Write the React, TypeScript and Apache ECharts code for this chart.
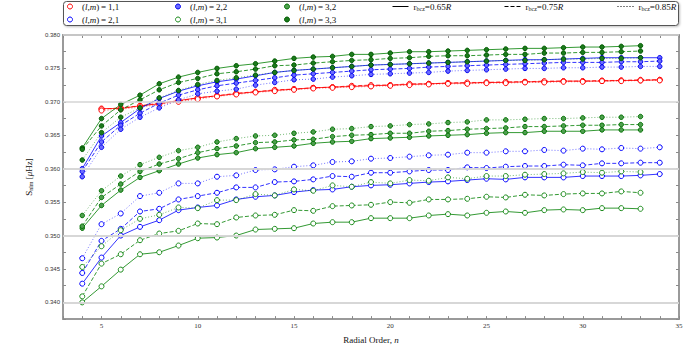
import React, { useEffect, useRef } from 'react';
import * as echarts from 'echarts';

// Radial orders n = 4 .. 34
const ORDERS = [4, 5, 6, 7, 8, 9, 10, 11, 12, 13, 14, 15, 16, 17, 18, 19, 20, 21, 22, 23, 24, 25, 26, 27, 28, 29, 30, 31, 32, 33, 34];

// (l,m)=1,1  — r_bcz = 0.65R / 0.75R / 0.85R
const S11_65 = [null, 0.3690, 0.3690, 0.3694, 0.3697, 0.3702, 0.3706, 0.3709, 0.3712, 0.3715, 0.3717, 0.3719, 0.3721, 0.3722, 0.3723, 0.3724, 0.3725, 0.3726, 0.3727, 0.3728, 0.3728, 0.3729, 0.3729, 0.3730, 0.3730, 0.3731, 0.3731, 0.3731, 0.3732, 0.3732, 0.3733];
const S11_75 = [null, 0.3689, 0.3691, 0.3694, 0.3698, 0.3701, 0.3706, 0.3709, 0.3713, 0.3715, 0.3718, 0.3719, 0.3721, 0.3722, 0.3724, 0.3725, 0.3725, 0.3727, 0.3727, 0.3728, 0.3729, 0.3729, 0.3730, 0.3730, 0.3731, 0.3731, 0.3731, 0.3732, 0.3732, 0.3733, 0.3733];
const S11_85 = [null, 0.3687, 0.3689, 0.3692, 0.3696, 0.3700, 0.3704, 0.3708, 0.3711, 0.3714, 0.3716, 0.3718, 0.3720, 0.3721, 0.3722, 0.3723, 0.3724, 0.3725, 0.3726, 0.3727, 0.3727, 0.3728, 0.3728, 0.3729, 0.3729, 0.3730, 0.3730, 0.3731, 0.3731, 0.3732, 0.3732];

// (l,m)=2,1
const S21_65 = [0.3428, 0.3467, 0.3500, 0.3513, 0.3523, 0.3538, 0.3542, 0.3545, 0.3554, 0.3558, 0.3560, 0.3565, 0.3568, 0.3569, 0.3573, 0.3575, 0.3576, 0.3578, 0.3580, 0.3581, 0.3583, 0.3585, 0.3584, 0.3587, 0.3587, 0.3587, 0.3589, 0.3589, 0.3589, 0.3590, 0.3592];
const S21_75 = [0.3444, 0.3492, 0.3510, 0.3536, 0.3540, 0.3554, 0.3559, 0.3564, 0.3572, 0.3572, 0.3580, 0.3581, 0.3584, 0.3589, 0.3588, 0.3594, 0.3594, 0.3596, 0.3598, 0.3598, 0.3602, 0.3601, 0.3603, 0.3604, 0.3604, 0.3606, 0.3605, 0.3608, 0.3608, 0.3609, 0.3609];
const S21_85 = [0.3466, 0.3517, 0.3533, 0.3559, 0.3564, 0.3578, 0.3578, 0.3588, 0.3590, 0.3598, 0.3599, 0.3603, 0.3605, 0.3610, 0.3611, 0.3615, 0.3616, 0.3618, 0.3620, 0.3621, 0.3624, 0.3624, 0.3626, 0.3626, 0.3628, 0.3627, 0.3630, 0.3629, 0.3631, 0.3630, 0.3632];

// (l,m)=2,2
const S22_65 = [0.3600, 0.3649, 0.3669, 0.3690, 0.3705, 0.3716, 0.3724, 0.3730, 0.3734, 0.3739, 0.3744, 0.3747, 0.3749, 0.3751, 0.3753, 0.3755, 0.3756, 0.3757, 0.3758, 0.3759, 0.3760, 0.3761, 0.3762, 0.3763, 0.3763, 0.3764, 0.3765, 0.3766, 0.3766, 0.3766, 0.3766];
const S22_75 = [0.3596, 0.3640, 0.3665, 0.3683, 0.3698, 0.3710, 0.3718, 0.3724, 0.3728, 0.3732, 0.3736, 0.3740, 0.3742, 0.3744, 0.3746, 0.3748, 0.3749, 0.3750, 0.3752, 0.3753, 0.3754, 0.3755, 0.3756, 0.3757, 0.3758, 0.3759, 0.3759, 0.3759, 0.3760, 0.3760, 0.3761];
const S22_85 = [0.3588, 0.3632, 0.3659, 0.3677, 0.3691, 0.3703, 0.3712, 0.3716, 0.3719, 0.3725, 0.3729, 0.3733, 0.3734, 0.3737, 0.3739, 0.3741, 0.3742, 0.3743, 0.3744, 0.3746, 0.3747, 0.3748, 0.3749, 0.3750, 0.3750, 0.3751, 0.3751, 0.3752, 0.3752, 0.3753, 0.3753];

// (l,m)=3,1
const S31_65 = [0.3400, 0.3424, 0.3449, 0.3472, 0.3475, 0.3485, 0.3496, 0.3497, 0.3500, 0.3509, 0.3510, 0.3511, 0.3518, 0.3520, 0.3520, 0.3526, 0.3526, 0.3526, 0.3530, 0.3532, 0.3530, 0.3534, 0.3536, 0.3534, 0.3538, 0.3539, 0.3538, 0.3541, 0.3541, 0.3540, null];
const S31_75 = [0.3409, 0.3458, 0.3472, 0.3493, 0.3503, 0.3507, 0.3518, 0.3517, 0.3527, 0.3530, 0.3531, 0.3538, 0.3537, 0.3544, 0.3545, 0.3546, 0.3550, 0.3549, 0.3554, 0.3554, 0.3555, 0.3558, 0.3557, 0.3561, 0.3560, 0.3562, 0.3563, 0.3563, 0.3566, 0.3564, null];
const S31_85 = [0.3453, 0.3484, 0.3508, 0.3525, 0.3531, 0.3542, 0.3541, 0.3553, 0.3553, 0.3562, 0.3560, 0.3569, 0.3567, 0.3575, 0.3573, 0.3580, 0.3578, 0.3583, 0.3582, 0.3587, 0.3585, 0.3589, 0.3589, 0.3591, 0.3592, 0.3593, 0.3595, 0.3594, 0.3596, 0.3595, null];

// (l,m)=3,2
const S32_65 = [0.3511, 0.3545, 0.3568, 0.3587, 0.3597, 0.3607, 0.3616, 0.3621, 0.3624, 0.3630, 0.3632, 0.3634, 0.3638, 0.3640, 0.3641, 0.3645, 0.3646, 0.3647, 0.3649, 0.3650, 0.3651, 0.3653, 0.3654, 0.3654, 0.3656, 0.3656, 0.3656, 0.3658, 0.3658, 0.3658, null];
const S32_75 = [0.3514, 0.3557, 0.3577, 0.3596, 0.3607, 0.3615, 0.3624, 0.3630, 0.3634, 0.3639, 0.3640, 0.3643, 0.3644, 0.3648, 0.3650, 0.3651, 0.3653, 0.3653, 0.3656, 0.3657, 0.3659, 0.3660, 0.3661, 0.3663, 0.3663, 0.3664, 0.3665, 0.3665, 0.3666, 0.3666, null];
const S32_85 = [0.3530, 0.3567, 0.3589, 0.3606, 0.3617, 0.3627, 0.3632, 0.3640, 0.3645, 0.3649, 0.3650, 0.3653, 0.3655, 0.3659, 0.3660, 0.3663, 0.3664, 0.3666, 0.3667, 0.3669, 0.3670, 0.3673, 0.3673, 0.3674, 0.3675, 0.3675, 0.3676, 0.3677, 0.3677, 0.3678, null];

// (l,m)=3,3
const S33_65 = [0.3631, 0.3675, 0.3696, 0.3710, 0.3727, 0.3737, 0.3744, 0.3750, 0.3754, 0.3757, 0.3761, 0.3765, 0.3767, 0.3768, 0.3771, 0.3771, 0.3773, 0.3775, 0.3775, 0.3776, 0.3777, 0.3778, 0.3779, 0.3780, 0.3780, 0.3781, 0.3782, 0.3782, 0.3783, 0.3784, null];
const S33_75 = [0.3629, 0.3664, 0.3688, 0.3703, 0.3718, 0.3729, 0.3735, 0.3742, 0.3745, 0.3749, 0.3754, 0.3755, 0.3758, 0.3760, 0.3762, 0.3763, 0.3765, 0.3766, 0.3768, 0.3769, 0.3769, 0.3770, 0.3771, 0.3771, 0.3773, 0.3773, 0.3774, 0.3774, 0.3775, 0.3776, null];
const S33_85 = [0.3613, 0.3654, 0.3677, 0.3691, 0.3706, 0.3717, 0.3726, 0.3732, 0.3736, 0.3740, 0.3744, 0.3747, 0.3749, 0.3751, 0.3753, 0.3755, 0.3756, 0.3757, 0.3758, 0.3759, 0.3760, 0.3761, 0.3762, 0.3762, 0.3763, 0.3764, 0.3764, 0.3765, 0.3765, 0.3766, null];

const GRID_VALUES = [0.340, 0.345, 0.350, 0.355, 0.360, 0.365, 0.370, 0.375];

const SERIF = '"Liberation Serif", "DejaVu Serif", serif';
const SANS = '"Liberation Sans", "DejaVu Sans", sans-serif';

const RICH = {
  i: { fontStyle: 'italic', fontFamily: SERIF, fontSize: 9, lineHeight: 11, color: '#111' },
  sub: { fontFamily: SERIF, fontSize: 6, lineHeight: 6, verticalAlign: 'bottom', color: '#111' },
};

const MODES = [
  { key: 'm11', text: '({i|l},{i|m})\u2009=\u20091,1', color: '#ff0000', fill: '#ffffff', border: '#ff0000', size: 5, values: [S11_65, S11_75, S11_85] },
  { key: 'm21', text: '({i|l},{i|m})\u2009=\u20092,1', color: '#0000ff', fill: '#ffffff', border: '#0000ff', size: 5, values: [S21_65, S21_75, S21_85] },
  { key: 'm22', text: '({i|l},{i|m})\u2009=\u20092,2', color: '#0000ff', fill: '#6b6bff', border: '#0000ee', size: 4.5, values: [S22_65, S22_75, S22_85] },
  { key: 'm31', text: '({i|l},{i|m})\u2009=\u20093,1', color: '#008000', fill: '#ffffff', border: '#1a8a1a', size: 5, values: [S31_65, S31_75, S31_85] },
  { key: 'm32', text: '({i|l},{i|m})\u2009=\u20093,2', color: '#008000', fill: '#4f9f4f', border: '#007000', size: 4.5, values: [S32_65, S32_75, S32_85] },
  { key: 'm33', text: '({i|l},{i|m})\u2009=\u20093,3', color: '#008000', fill: '#1c7a1c', border: '#005a00', size: 4.5, values: [S33_65, S33_75, S33_85] },
];

const RBCZ = [
  { key: 'r65', text: 'r{sub|bcz}=0.65{i|R}', dash: 'solid', opacity: 0.8 },
  { key: 'r75', text: 'r{sub|bcz}=0.75{i|R}', dash: [4, 2], opacity: 0.8 },
  { key: 'r85', text: 'r{sub|bcz}=0.85{i|R}', dash: [1, 2], opacity: 0.55 },
];

const LEGEND_TEXT: Record<string, string> = {};
MODES.forEach((m) => (LEGEND_TEXT[m.key] = m.text));
RBCZ.forEach((r) => (LEGEND_TEXT[r.key] = r.text));

function pairs(vals: (number | null)[]) {
  const out: [number, number][] = [];
  vals.forEach((v, i) => {
    if (v !== null) out.push([ORDERS[i], v]);
  });
  return out;
}

export default function App() {
  const ref = useRef<HTMLDivElement>(null);
  useEffect(() => {
    if (!ref.current) return;
    const chart = echarts.init(ref.current, null, { renderer: 'svg' });

    const dataSeries: any[] = [];
    MODES.forEach((m) => {
      RBCZ.forEach((r, j) => {
        dataSeries.push({
          name: m.key + '-' + r.key,
          type: 'line',
          z: 3,
          data: pairs(m.values[j]),
          symbol: 'circle',
          symbolSize: m.size,
          showSymbol: true,
          lineStyle: { color: m.color, width: 1, type: r.dash, opacity: r.opacity },
          itemStyle: { color: m.fill, borderColor: m.border, borderWidth: 1 },
          emphasis: { disabled: true },
          silent: true,
        });
      });
    });

    const legendSeries: any[] = [];
    MODES.forEach((m) => {
      legendSeries.push({
        name: m.key, type: 'line', data: [], symbol: 'circle',
        itemStyle: { color: m.fill, borderColor: m.border, borderWidth: 1 },
        lineStyle: { color: m.color },
      });
    });
    RBCZ.forEach((r) => {
      legendSeries.push({
        name: r.key, type: 'line', data: [], symbol: 'none',
        itemStyle: { color: '#000' },
        lineStyle: { color: '#000', width: 1, type: r.dash },
      });
    });

    const gridSeries = {
      name: 'grid', type: 'line', data: [], z: 1, silent: true,
      markLine: {
        silent: true, symbol: ['none', 'none'], label: { show: false },
        lineStyle: { color: '#d4d4d4', width: 1.5, type: 'solid' },
        emphasis: { disabled: true },
        data: GRID_VALUES.map((v) => ({ yAxis: v })),
      },
    };

    const modeItem = (k: string) => {
      const m = MODES.find((x) => x.key === k)!;
      return { name: k, icon: 'circle', itemStyle: { color: m.fill, borderColor: m.border, borderWidth: 1 } };
    };
    const lineItem = (k: string) => {
      const r = RBCZ.find((x) => x.key === k)!;
      return {
        name: k,
        itemStyle: { color: 'rgba(0,0,0,0)', borderWidth: 0, opacity: 0 },
        lineStyle: { color: '#000', width: 1, type: r.dash },
      };
    };

    const legendBase = {
      orient: 'vertical', top: 1, padding: 0, itemGap: 2, selectedMode: false,
      itemHeight: 5,
      textStyle: { fontFamily: SERIF, fontSize: 9, lineHeight: 11, color: '#111', rich: RICH },
      formatter: (n: string) => LEGEND_TEXT[n],
    };
    const legends = [
      { ...legendBase, left: 67, itemWidth: 14, data: [modeItem('m11'), modeItem('m21')] },
      { ...legendBase, left: 175, itemWidth: 14, data: [modeItem('m22'), modeItem('m31')] },
      { ...legendBase, left: 284, itemWidth: 14, data: [modeItem('m32'), modeItem('m33')] },
      { ...legendBase, left: 392, itemWidth: 16, data: [lineItem('r65')] },
      { ...legendBase, left: 504, itemWidth: 16, data: [lineItem('r75')] },
      { ...legendBase, left: 617, itemWidth: 16, data: [lineItem('r85')] },
    ];

    const spine = { show: true, onZero: false, lineStyle: { color: '#9a9a9a', width: 2 } };
    const ticks = { show: true, inside: true, length: 3, lineStyle: { color: '#8a8a8a', width: 1 } };

    const xFmt = (v: number) => (Math.abs(v % 5) < 1e-9 ? String(v) : '');
    const yFmt = (v: number) => {
      const k = Math.round(v * 1000);
      return Math.abs(v * 1000 - k) < 1e-6 && k % 5 === 0 ? (k / 1000).toFixed(3) : '';
    };

    chart.setOption({
      animation: false,
      backgroundColor: '#ffffff',
      grid: { left: 63, right: 21, top: 35, bottom: 28, containLabel: false },
      graphic: [
        {
          type: 'rect', z: 0, silent: true,
          shape: { x: 63.5, y: 1.5, width: 615, height: 24, r: 3 },
          style: { fill: '#ffffff', stroke: '#555555', lineWidth: 1, shadowBlur: 2, shadowColor: 'rgba(0,0,0,0.25)', shadowOffsetX: 1, shadowOffsetY: 1 },
        },
      ],
      legend: legends,
      xAxis: [
        {
          type: 'value', min: 3, max: 35, interval: 1, position: 'bottom',
          axisLine: spine, axisTick: ticks,
          axisLabel: { formatter: xFmt, fontFamily: SERIF, fontSize: 7, color: '#333', margin: 3 },
          splitLine: { show: false },
          name: 'Radial Order, {i|n}', nameLocation: 'middle', nameGap: 10,
          nameTextStyle: { fontFamily: SERIF, fontSize: 9, color: '#111', lineHeight: 11, rich: RICH },
        },
        {
          type: 'value', min: 3, max: 35, interval: 1, position: 'top',
          axisLine: spine, axisTick: ticks, axisLabel: { show: false }, splitLine: { show: false },
        },
      ],
      yAxis: [
        {
          type: 'value', min: 0.3375, max: 0.38, interval: 0.0025, position: 'left',
          axisLine: spine, axisTick: ticks,
          axisLabel: { formatter: yFmt, fontFamily: SANS, fontSize: 6, color: '#333', margin: 3 },
          splitLine: { show: false },
          name: 'S{sub|nlm} [{i|μ}Hz]', nameLocation: 'middle', nameGap: 21, nameRotate: 90,
          nameTextStyle: { fontFamily: SERIF, fontSize: 9, color: '#111', lineHeight: 11, rich: RICH },
        },
        {
          type: 'value', min: 0.3375, max: 0.38, interval: 0.0025, position: 'right',
          axisLine: spine, axisTick: ticks, axisLabel: { show: false }, splitLine: { show: false },
        },
      ],
      series: [gridSeries, ...dataSeries, ...legendSeries],
    });

    return () => chart.dispose();
  }, []);

  return <div ref={ref} style={{ position: 'fixed', left: 0, top: 0, width: 700, height: 350 }} />;
}
